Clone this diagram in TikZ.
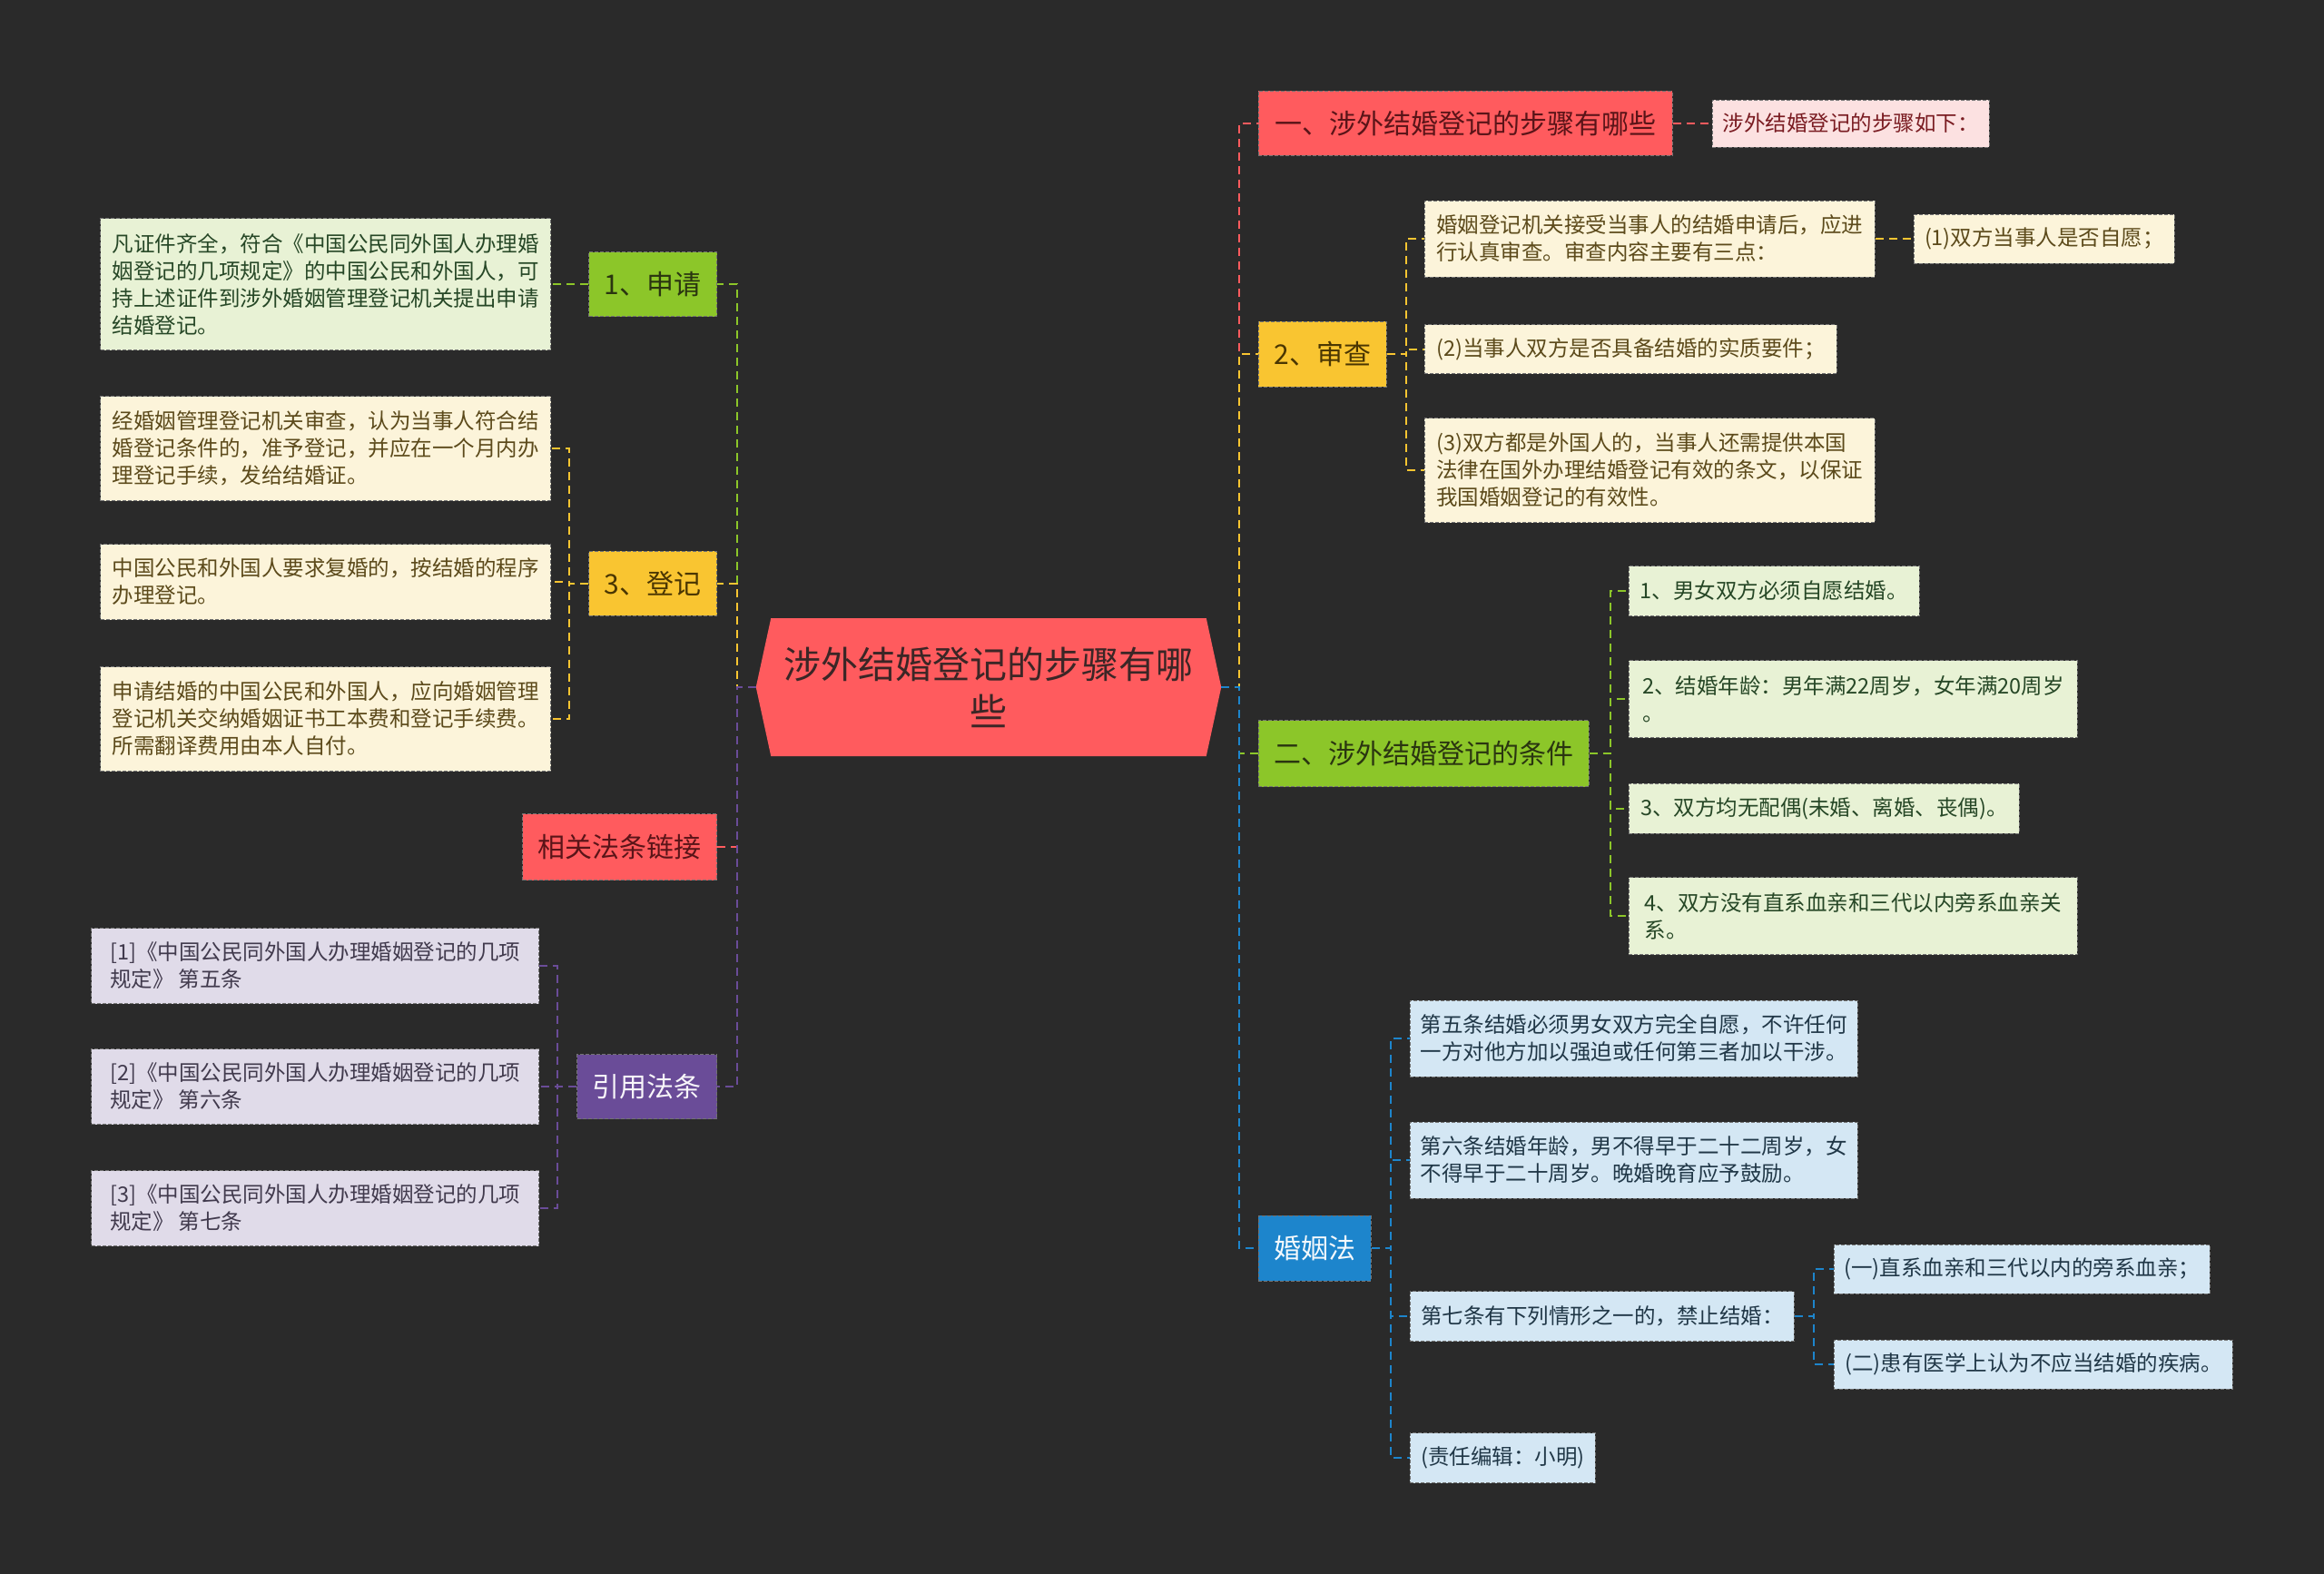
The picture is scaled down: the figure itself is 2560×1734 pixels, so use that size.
\documentclass[tikz,border=0pt]{standalone}
\usepackage{fontspec}
\setmainfont{Noto Sans CJK SC}

% colours
\definecolor{bgdark}{HTML}{2A2A2A}
\definecolor{brred}{HTML}{FF5B5E}
\definecolor{brgreen}{HTML}{8CC629}
\definecolor{bryellow}{HTML}{F9C531}
\definecolor{brpurple}{HTML}{6A4C98}
\definecolor{brblue}{HTML}{1D85CC}
\definecolor{txroot}{HTML}{3B2626}
\definecolor{txred}{HTML}{5A1418}
\definecolor{txgreen}{HTML}{2A3510}
\definecolor{txyellow}{HTML}{4A3602}
\definecolor{lfred}{HTML}{FCE1E1}
\definecolor{lfgreen}{HTML}{E8F2D5}
\definecolor{lfyellow}{HTML}{FCF4DA}
\definecolor{lfpurple}{HTML}{E0DBE9}
\definecolor{lfblue}{HTML}{D4E7F4}
\definecolor{HTMLred}{HTML}{7A1C22}

\tikzset{
  rootbox/.style={minimum width=512.5pt, minimum height=152pt, align=center,
    fill=bgdark, text=txroot, font=\fontsize{41}{52}\selectfont,
    path picture={\fill[brred]
      ([xshift=16.5pt]path picture bounding box.north west) --
      ([xshift=-16.5pt]path picture bounding box.north east) --
      (path picture bounding box.east) --
      ([xshift=-16.5pt]path picture bounding box.south east) --
      ([xshift=16.5pt]path picture bounding box.south west) --
      (path picture bounding box.west) -- cycle;}},
  box/.style={draw=black!55, line width=0.9pt, dash pattern=on 4pt off 2pt},
  branch/.style={box, minimum height=71pt, inner xsep=17pt, font=\fontsize{30}{36}\selectfont},
  leaf/.style={box, inner xsep=11pt, inner ysep=4pt, minimum height=54pt, align=left,
    font=\fontsize{23.5}{30}\selectfont},
  redbr/.style={branch, fill=brred, text=txred},
  greenbr/.style={branch, fill=brgreen, text=txgreen},
  yellowbr/.style={branch, fill=bryellow, text=txyellow},
  purplebr/.style={branch, fill=brpurple, text=white!95!brpurple},
  bluebr/.style={branch, fill=brblue, text=white!95!brblue},
  redleaf/.style={leaf, fill=lfred, text=HTMLred},
  greenleaf/.style={leaf, fill=lfgreen, text=green!15!black!85},
  yellowleaf/.style={leaf, fill=lfyellow, text=txyellow!90!white},
  purpleleaf/.style={leaf, fill=lfpurple, text=brpurple!30!black!85},
  blueleaf/.style={leaf, fill=lfblue, text=brblue!25!black!90},
  link/.style={line width=2pt, dash pattern=on 9pt off 6pt},
}

\begin{document}
\begin{tikzpicture}[x=1pt, y=-1pt]
    % Nền
    \fill[bgdark] (0,0) rectangle (2560,1734);

    % Chủ đề trung tâm
    \node[rootbox] (root) at (1089,757) {涉外结婚登记的步骤有哪\\些};

    % Nhánh bên trái
    \node[greenbr, anchor=east, minimum width=140pt] (apply) at (790,313) {1、申请};
    \node[greenleaf, anchor=east, minimum width=496pt, minimum height=145pt] (applyA) at (607,313)
        {凡证件齐全，符合《中国公民同外国人办理婚\\姻登记的几项规定》的中国公民和外国人，可\\持上述证件到涉外婚姻管理登记机关提出申请\\结婚登记。};

    \node[yellowbr, anchor=east, minimum width=140pt] (register) at (790,642.5) {3、登记};
    \node[yellowleaf, anchor=east, minimum width=496pt, minimum height=115pt] (registerA) at (607,494)
        {经婚姻管理登记机关审查，认为当事人符合结\\婚登记条件的，准予登记，并应在一个月内办\\理登记手续，发给结婚证。};
    \node[yellowleaf, anchor=east, minimum width=496pt, minimum height=83pt] (registerB) at (607,641)
        {中国公民和外国人要求复婚的，按结婚的程序\\办理登记。};
    \node[yellowleaf, anchor=east, minimum width=496pt, minimum height=115pt] (registerC) at (607,792)
        {申请结婚的中国公民和外国人，应向婚姻管理\\登记机关交纳婚姻证书工本费和登记手续费。\\所需翻译费用由本人自付。};

    \node[redbr, anchor=east, minimum width=212pt, minimum height=73pt] (linkhead) at (790,933) {相关法条链接};

    \node[purplebr, anchor=east, minimum width=153pt] (cite) at (790,1197) {引用法条};
    \node[purpleleaf, anchor=east, minimum width=493pt, minimum height=83pt] (citeA) at (594,1064)
        {[1]《中国公民同外国人办理婚姻登记的几项\\规定》 第五条};
    \node[purpleleaf, anchor=east, minimum width=493pt, minimum height=83pt] (citeB) at (594,1197)
        {[2]《中国公民同外国人办理婚姻登记的几项\\规定》 第六条};
    \node[purpleleaf, anchor=east, minimum width=493pt, minimum height=83pt] (citeC) at (594,1331)
        {[3]《中国公民同外国人办理婚姻登记的几项\\规定》 第七条};

    % Nhánh bên phải
    \node[redbr, anchor=west, minimum width=456pt] (step1) at (1386,136) {一、涉外结婚登记的步骤有哪些};
    \node[redleaf, anchor=west, minimum width=305pt, minimum height=52pt] (step1A) at (1886,136) {涉外结婚登记的步骤如下：};

    \node[yellowbr, anchor=west, minimum width=141pt, minimum height=72pt] (review) at (1386,390) {2、审查};
    \node[yellowleaf, anchor=west, minimum width=496pt, minimum height=84pt] (reviewA) at (1569,263)
        {婚姻登记机关接受当事人的结婚申请后，应进\\行认真审查。审查内容主要有三点：};
    \node[yellowleaf, anchor=west, minimum width=287pt] (reviewAA) at (2108,263) {(1)双方当事人是否自愿；};
    \node[yellowleaf, anchor=west, minimum width=454pt] (reviewB) at (1569,384.5) {(2)当事人双方是否具备结婚的实质要件；};
    \node[yellowleaf, anchor=west, minimum width=496pt, minimum height=115pt] (reviewC) at (1569,518)
        {(3)双方都是外国人的，当事人还需提供本国\\法律在国外办理结婚登记有效的条文，以保证\\我国婚姻登记的有效性。};

    \node[greenbr, anchor=west, minimum width=364pt, minimum height=73pt] (cond) at (1386,830) {二、涉外结婚登记的条件};
    \node[greenleaf, anchor=west, minimum width=320pt, minimum height=55pt] (condA) at (1794,651) {1、男女双方必须自愿结婚。};
    \node[greenleaf, anchor=west, minimum width=494pt, minimum height=85pt] (condB) at (1794,770)
        {2、结婚年龄：男年满22周岁，女年满20周岁\\。};
    \node[greenleaf, anchor=west, minimum width=430pt, minimum height=55pt] (condC) at (1794,890.5) {3、双方均无配偶(未婚、离婚、丧偶)。};
    \node[greenleaf, anchor=west, minimum width=494pt, minimum height=85pt] (condD) at (1794,1009)
        {4、双方没有直系血亲和三代以内旁系血亲关\\系。};

    \node[bluebr, anchor=west, minimum width=123pt, minimum height=72pt] (law) at (1386,1375) {婚姻法};
    \node[blueleaf, anchor=west, minimum width=493pt, minimum height=84pt] (lawA) at (1553,1144)
        {第五条结婚必须男女双方完全自愿，不许任何\\一方对他方加以强迫或任何第三者加以干涉。};
    \node[blueleaf, anchor=west, minimum width=493pt, minimum height=84pt] (lawB) at (1553,1278)
        {第六条结婚年龄，男不得早于二十二周岁，女\\不得早于二十周岁。晚婚晚育应予鼓励。};
    \node[blueleaf, anchor=west, minimum width=423pt, minimum height=55pt] (lawC) at (1553,1450) {第七条有下列情形之一的，禁止结婚：};
    \node[blueleaf, anchor=west, minimum width=413pt] (lawCa) at (2020,1398) {(一)直系血亲和三代以内的旁系血亲；};
    \node[blueleaf, anchor=west, minimum width=439pt] (lawCb) at (2020,1503) {(二)患有医学上认为不应当结婚的疾病。};
    \node[blueleaf, anchor=west, minimum width=204pt, minimum height=55pt] (lawD) at (1553,1606) {(责任编辑：小明)};

    % Đường nối bên trái
    \foreach \b/\c in {apply/brgreen, register/bryellow, linkhead/brred, cite/brpurple}
        \draw[link, \c] (root.west) -- ++(-21,0) |- (\b.east);
    \draw[link, brgreen] (apply.west) -- (applyA.east);
    \foreach \c in {registerA, registerB, registerC}
        \draw[link, bryellow] (register.west) -- ++(-21,0) |- (\c.east);
    \foreach \c in {citeA, citeB, citeC}
        \draw[link, brpurple] (cite.west) -- ++(-21,0) |- (\c.east);

    % Đường nối bên phải
    \foreach \b/\c in {step1/brred, review/bryellow, cond/brgreen, law/brblue}
        \draw[link, \c] (root.east) -- ++(20,0) |- (\b.west);
    \draw[link, brred] (step1.east) -- (step1A.west);
    \foreach \c in {reviewA, reviewB, reviewC}
        \draw[link, bryellow] (review.east) -- ++(21,0) |- (\c.west);
    \draw[link, bryellow] (reviewA.east) -- (reviewAA.west);
    \foreach \c in {condA, condB, condC, condD}
        \draw[link, brgreen] (cond.east) -- ++(23,0) |- (\c.west);
    \foreach \c in {lawA, lawB, lawC, lawD}
        \draw[link, brblue] (law.east) -- ++(21,0) |- (\c.west);
    \foreach \c in {lawCa, lawCb}
        \draw[link, brblue] (lawC.east) -- ++(21,0) |- (\c.west);
\end{tikzpicture}
\end{document}
